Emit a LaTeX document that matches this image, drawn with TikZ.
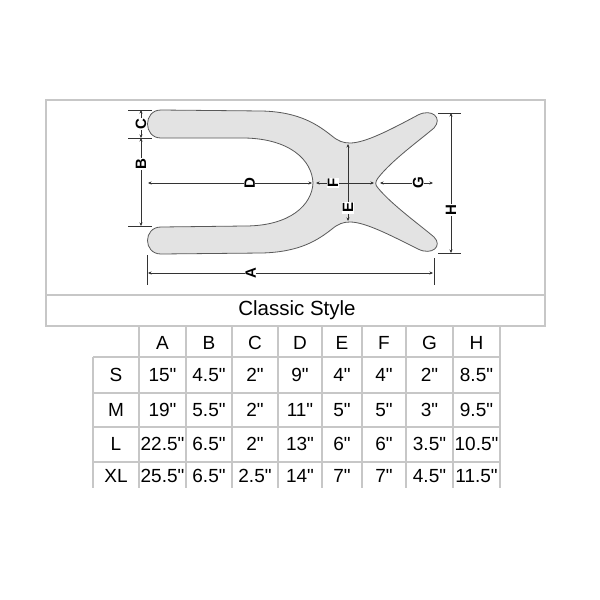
\documentclass[tikz,border=0pt]{standalone}
\usepackage{fontspec}
\setmainfont{Liberation Sans}
\newfontfamily\plainf{Liberation Sans}
\usetikzlibrary{arrows.meta}
\newcommand\qq{{\plainf\symbol{34}}}
\begin{document}
\begin{tikzpicture}[x=1pt,y=-1pt,
  grid/.style={draw=black!22,line width=1.6pt},
  dim/.style={draw=black!80,line width=0.6pt,{Stealth[length=3.5pt,width=3pt]}-{Stealth[length=3.5pt,width=3pt]}},
  ext/.style={draw=black!80,line width=0.6pt},
  lbl/.style={fill=white,inner sep=0.6pt,font=\bfseries\fontsize{15}{15}\selectfont,rotate=90},
  cell/.style={font=\plainf\fontsize{19}{19}\selectfont,inner sep=0pt}]
\useasboundingbox (0,0) rectangle (600,600);
\fill[white] (0,0) rectangle (600,600);
% frame
\draw[grid] (46,100) rectangle (545,326);
\draw[grid] (46,295) -- (545,295);
\node[font=\fontsize{20.5}{20.5}\selectfont,inner sep=0pt] (title) at (297,310) {Classic Style};
% shape
\draw[fill=black!11,draw=black!65,line width=0.8pt]
 (161,110) -- (262,111) .. controls (300,112) and (318,125) .. (332,136)
 .. controls (338,141) and (343,143) .. (350,143)
 .. controls (365,143) and (390,130) .. (418,115)
 .. controls (432,108) and (443,118) .. (434,128)
 .. controls (420,140) and (392,160) .. (378,178)
 .. controls (375,182) and (375,185) .. (378,188)
 .. controls (392,205) and (420,225) .. (434,237)
 .. controls (443,246) and (432,256) .. (418,249)
 .. controls (390,235) and (365,222) .. (350,222)
 .. controls (343,222) and (338,224) .. (332,229)
 .. controls (318,240) and (300,252) .. (262,253)
 -- (161,254) .. controls (143,254) and (143,227) .. (161,227)
 -- (245,226) .. controls (290,226) and (312,205) .. (313,183)
 .. controls (312,160) and (290,139) .. (245,138)
 -- (161,138) .. controls (143,138) and (143,110) .. (161,110) -- cycle;
% coordinates
\coordinate (c1) at (141,110); \coordinate (c2) at (141,138); \coordinate (c3) at (141,226);
\coordinate (d1) at (148,183); \coordinate (d2) at (312,183);
\coordinate (f1) at (316,183); \coordinate (f2) at (374,183);
\coordinate (e1) at (348,144); \coordinate (e2) at (348,221);
\coordinate (g1) at (380,183); \coordinate (g2) at (433,183);
\coordinate (h1) at (451,113); \coordinate (h2) at (451,253);
\coordinate (a1) at (148,273); \coordinate (a2) at (433,273);
% extension lines
\draw[ext] (128,110) -- (152,110);
\draw[ext] (128,138) -- (152,138);
\draw[ext] (128,226) -- (152,226);
\draw[ext] (438,113) -- (461,113);
\draw[ext] (438,253) -- (461,253);
\draw[ext] (147,255) -- (147,285);
\draw[ext] (434,258) -- (434,285);
% dimension lines
\draw[dim] (c1) -- (c2) node[lbl,midway] (C) {C};
\draw[dim] (c2) -- (c3) node[lbl,pos=0.3] (B) {B};
\draw[dim] (d1) -- (d2) node[lbl,pos=0.62] (D) {D};
\draw[dim] (f1) -- (f2);
\node[lbl] (F) at (333,183) {F};
\draw[dim] (e1) -- (e2) node[lbl,pos=0.83] (E) {E};
\draw[dim] (g1) -- (g2) node[lbl,pos=0.72] (G) {G};
\draw[dim] (h1) -- (h2) node[lbl,pos=0.69] (H) {H};
\draw[dim] (a1) -- (a2) node[lbl,pos=0.36] (A) {A};
% table grid
\foreach \x in {139,186,232,278,322,362,406,453,500} \draw[grid] (\x,326) -- (\x,488);
\draw[grid] (93,357) -- (93,488);
\foreach \y in {357,393,427,462} \draw[grid] (93,\y) -- (500,\y);
% table text
\foreach \t [count=\i] in {A,B,C,D,E,F,G,H} {
  \pgfmathsetmacro\cx{{162.5,209,255,300,342,384,429.5,476.5}[\i-1]}
  \node[cell] (hd\i) at (\cx,343) {\t};}
\foreach \r/\yy/\vals [count=\j] in {
  S/375/{15\qq,4.5\qq,2\qq,9\qq,4\qq,4\qq,2\qq,8.5\qq},
  M/410/{19\qq,5.5\qq,2\qq,11\qq,5\qq,5\qq,3\qq,9.5\qq},
  L/444/{22.5\qq,6.5\qq,2\qq,13\qq,6\qq,6\qq,3.5\qq,10.5\qq},
  XL/476/{25.5\qq,6.5\qq,2.5\qq,14\qq,7\qq,7\qq,4.5\qq,11.5\qq}} {
  \node[cell] (rl\j) at (116,\yy) {\r};
  \foreach \v [count=\i] in \vals {
    \pgfmathsetmacro\cx{{162.5,209,255,300,342,384,429.5,476.5}[\i-1]}
    \node[cell] (v\j\i) at (\cx,\yy) {\v};}
}
\end{tikzpicture}
\end{document}
